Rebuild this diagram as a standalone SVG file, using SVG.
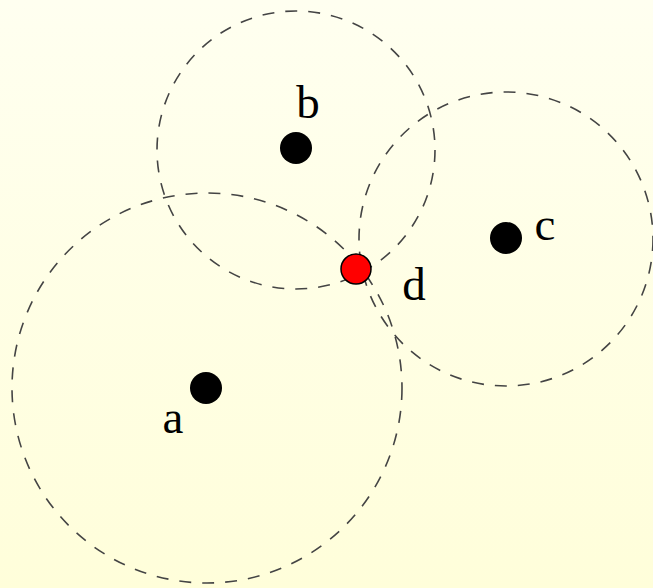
<svg xmlns="http://www.w3.org/2000/svg" width="653" height="588" viewBox="0 0 653 588">
<defs>
<linearGradient id="bg" x1="0" y1="0" x2="0" y2="1">
<stop offset="0" stop-color="#FFFFF0"/>
<stop offset="1" stop-color="#FFFEDA"/>
</linearGradient>
<style>
.range{fill:none;stroke:#444;stroke-width:1.6;stroke-dasharray:12 11}
.pt{fill:#000}
.lbl{font-family:"Liberation Serif",serif;font-size:47px;fill:#000;text-anchor:middle}
</style>
</defs>
<rect width="653" height="588" fill="url(#bg)"/>
<g id="connectors">
<circle class="range" cx="207" cy="388" r="195"/>
<circle class="range" cx="296" cy="150" r="139"/>
<circle class="range" cx="506" cy="239" r="147"/>
</g>
<g id="a"><circle class="pt" cx="206" cy="388" r="16"/><text class="lbl" x="173" y="433">a</text></g>
<g id="b"><circle class="pt" cx="296" cy="148" r="16"/><text class="lbl" x="308" y="118">b</text></g>
<g id="c"><circle class="pt" cx="506" cy="238" r="16"/><text class="lbl" x="545" y="240">c</text></g>
<g id="d"><circle cx="356" cy="269" r="15" fill="#FF0000" stroke="#000" stroke-width="1.5"/><text class="lbl" x="414" y="300">d</text></g>
</svg>
